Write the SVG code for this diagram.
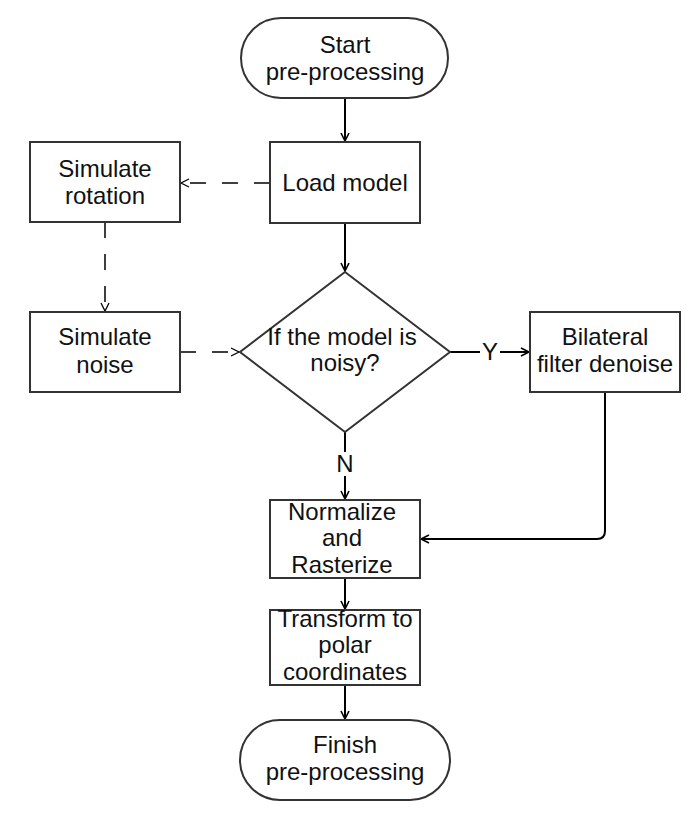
<svg xmlns="http://www.w3.org/2000/svg" width="700" height="820" viewBox="0 0 700 820">
<defs>
<marker id="arr" markerUnits="userSpaceOnUse" markerWidth="12" markerHeight="12" refX="9" refY="5" orient="auto">
<path d="M1,1 L9,5 L1,9" fill="none" stroke="#000" stroke-width="1.6"/>
</marker>
<marker id="arrd" markerUnits="userSpaceOnUse" markerWidth="12" markerHeight="12" refX="9" refY="5" orient="auto">
<path d="M1,1 L9,5 L1,9" fill="none" stroke="#000" stroke-width="1.3"/>
</marker>
</defs>
<style>
.n{fill:#fff;stroke:#333;stroke-width:2}
.t{font-family:"Liberation Sans",Arial,sans-serif;font-size:24px;fill:#111;text-anchor:middle}
.c{fill:none;stroke:#000;stroke-width:2}
.d{fill:none;stroke:#000;stroke-width:1.5;stroke-dasharray:16 16}
.lb{fill:#fff;stroke:none}
</style>
<rect width="700" height="820" fill="#fff"/>
<g id="connectors">
<path class="c" d="M345,98 V141" marker-end="url(#arr)"/>
<path class="c" d="M345,223 V271" marker-end="url(#arr)"/>
<path class="d" d="M270,183 H181" marker-end="url(#arrd)"/>
<path class="d" d="M105,222 V311" marker-end="url(#arrd)"/>
<path class="d" d="M180,352 H239" marker-end="url(#arrd)"/>
<path class="c" d="M450,352 H529" marker-end="url(#arr)"/>
<path class="c" d="M345,432 V499" marker-end="url(#arr)"/>
<path class="c" d="M605,392 V531 Q605,539 597,539 H421" marker-end="url(#arr)"/>
<path class="c" d="M345,578 V609" marker-end="url(#arr)"/>
<path class="c" d="M345,685 V719" marker-end="url(#arr)"/>
<rect class="lb" x="480" y="340" width="20" height="24"/>
<text class="t" x="490" y="360">Y</text>
<rect class="lb" x="334" y="452" width="22" height="24"/>
<text class="t" x="345" y="472">N</text>
</g>
<g id="start">
<rect class="n" x="241" y="18" width="207" height="80" rx="40" ry="40"/>
<text class="t" x="345" y="53">Start</text>
<text class="t" x="345" y="80">pre-processing</text>
</g>
<g id="load">
<rect class="n" x="270" y="142" width="150" height="81"/>
<text class="t" x="345" y="191">Load model</text>
</g>
<g id="rotation">
<rect class="n" x="30" y="142" width="150" height="80"/>
<text class="t" x="105" y="177">Simulate</text>
<text class="t" x="105" y="204">rotation</text>
</g>
<g id="noise">
<rect class="n" x="30" y="312" width="150" height="80"/>
<text class="t" x="105" y="345">Simulate</text>
<text class="t" x="105" y="373">noise</text>
</g>
<g id="decision">
<polygon class="n" points="345,272 450,352 345,432 240,352"/>
<text class="t" x="342" y="345">If the model is</text>
<text class="t" x="345" y="371">noisy?</text>
</g>
<g id="bilateral">
<rect class="n" x="530" y="312" width="150" height="80"/>
<text class="t" x="605" y="345">Bilateral</text>
<text class="t" x="605" y="372">filter denoise</text>
</g>
<g id="normalize">
<rect class="n" x="270" y="500" width="150" height="78"/>
<text class="t" x="342" y="520">Normalize</text>
<text class="t" x="342" y="546">and</text>
<text class="t" x="342" y="573">Rasterize</text>
</g>
<g id="transform">
<rect class="n" x="270" y="610" width="150" height="75"/>
<text class="t" x="345" y="627">Transform to</text>
<text class="t" x="345" y="653">polar</text>
<text class="t" x="345" y="680">coordinates</text>
</g>
<g id="finish">
<rect class="n" x="240" y="720" width="210" height="80" rx="40" ry="40"/>
<text class="t" x="345" y="753">Finish</text>
<text class="t" x="345" y="780">pre-processing</text>
</g>
</svg>
